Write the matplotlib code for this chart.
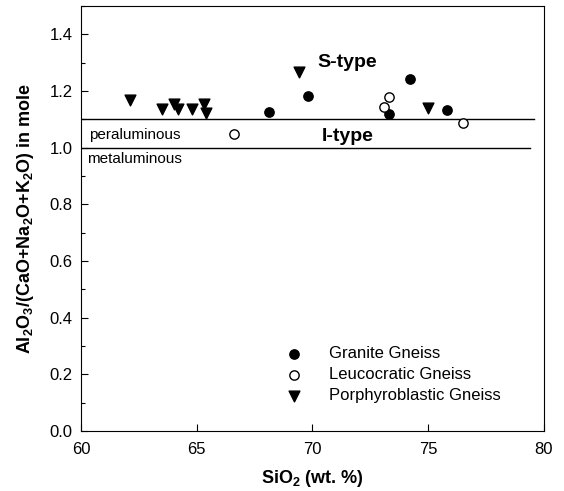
import matplotlib
matplotlib.use("Agg")
import matplotlib.pyplot as plt
from matplotlib.ticker import MultipleLocator

plt.rcParams['font.family'] = ['Liberation Sans', 'DejaVu Sans']
plt.rcParams['mathtext.fontset'] = 'custom'
plt.rcParams['mathtext.rm'] = 'Liberation Sans'
plt.rcParams['mathtext.bf'] = 'Liberation Sans:bold'

# granite gneiss (filled circles)
granite_sio2 = [68.1, 69.8, 73.3, 74.2, 75.8]
granite_asi = [1.127, 1.182, 1.119, 1.242, 1.132]

# leucocratic gneiss (open circles)
leuco_sio2 = [66.6, 73.1, 73.3, 76.5]
leuco_asi = [1.047, 1.145, 1.178, 1.086]

# porphyroblastic gneiss (down triangles)
porph_sio2 = [62.1, 63.5, 64.0, 64.2, 64.8, 65.3, 65.4, 69.4, 75.0]
porph_asi = [1.168, 1.135, 1.154, 1.135, 1.135, 1.154, 1.124, 1.266, 1.140]

fig = plt.figure(figsize=(5.64, 4.91), dpi=100)
ax = fig.add_axes([0.1436, 0.1222, 0.8209, 0.8656])

ax.plot([60, 79.55], [1.1, 1.1], color='black', lw=1.0, zorder=1)
ax.plot([60, 79.4], [1.0, 1.0], color='black', lw=1.0, zorder=1)

ax.scatter(granite_sio2, granite_asi, marker='o', s=45, facecolor='black',
           edgecolor='black', label='Granite Gneiss', zorder=3)
ax.scatter(leuco_sio2, leuco_asi, marker='o', s=45, facecolor='white',
           edgecolor='black', linewidths=1.0, label='Leucocratic Gneiss', zorder=3)
ax.scatter(porph_sio2, porph_asi, marker='v', s=60, facecolor='black',
           edgecolor='black', label='Porphyroblastic Gneiss', zorder=3)

ax.text(70.2, 1.30, 'S-type', fontsize=14, fontweight='bold', va='center')
ax.text(70.4, 1.04, 'I-type', fontsize=14, fontweight='bold', va='center')
ax.text(60.35, 1.045, 'peraluminous', fontsize=11, va='center')
ax.text(60.25, 0.96, 'metaluminous', fontsize=11, va='center')

ax.set_xlim(60, 80)
ax.set_ylim(0, 1.5)
ax.set_xticks([60, 65, 70, 75, 80])
ax.set_yticks([0.0, 0.2, 0.4, 0.6, 0.8, 1.0, 1.2, 1.4])
ax.set_yticklabels(['0.0', '0.2', '0.4', '0.6', '0.8', '1.0', '1.2', '1.4'])
ax.yaxis.set_minor_locator(MultipleLocator(0.1))
ax.tick_params(axis='both', which='major', direction='in', length=5, width=0.8,
               labelsize=12, pad=6)
ax.tick_params(axis='y', which='minor', direction='in', length=3, width=0.8)
ax.tick_params(axis='x', which='major', pad=8)

ax.set_xlabel('SiO$_\\mathbf{2}$ (wt. %)', fontsize=13, fontweight='bold', labelpad=8)
ax.set_ylabel('Al$_\\mathbf{2}$O$_\\mathbf{3}$/(CaO+Na$_\\mathbf{2}$O+K$_\\mathbf{2}$O) in mole',
              fontsize=13, fontweight='bold', labelpad=10)

ax.legend(loc='lower left', bbox_to_anchor=(0.425, 0.05), frameon=False, fontsize=12,
          handletextpad=1.45, labelspacing=0.35, borderaxespad=0, handlelength=1.2)

fig.savefig('out.png', dpi=100)
